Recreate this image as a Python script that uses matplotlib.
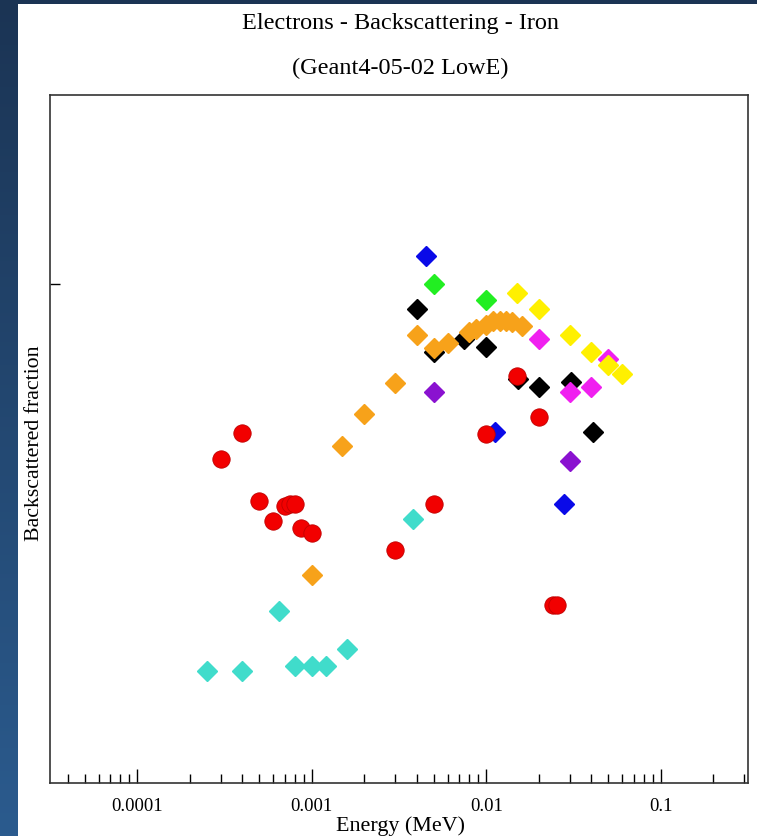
import numpy as np
import matplotlib.pyplot as plt
from matplotlib.colors import LinearSegmentedColormap
from matplotlib.ticker import FixedLocator, LogLocator, NullFormatter, FixedFormatter

plt.rcParams['font.family'] = ['Liberation Serif', 'DejaVu Serif']

# energy (MeV) and backscattered fraction, one pair of lists per data set
red_e = [0.0003, 0.0004, 0.0005, 0.0006, 0.0007, 0.00075, 0.0008, 0.00087, 0.001,
         0.003, 0.005, 0.01, 0.015, 0.02, 0.0242, 0.0255]
red_f = [0.325, 0.351, 0.283, 0.263, 0.278, 0.280, 0.280, 0.256, 0.251,
         0.234, 0.280, 0.350, 0.408, 0.367, 0.1785, 0.1785]

blue_e = [0.0045, 0.0112, 0.028]
blue_f = [0.5285, 0.352, 0.280]

green_e = [0.005, 0.01]
green_f = [0.500, 0.484]

black_e = [0.004, 0.005, 0.0075, 0.01, 0.0152, 0.02, 0.0307, 0.041]
black_f = [0.475, 0.432, 0.445, 0.437, 0.405, 0.397, 0.402, 0.352]

yellow_e = [0.015, 0.02, 0.03, 0.04, 0.05, 0.06]
yellow_f = [0.491, 0.475, 0.449, 0.432, 0.419, 0.410]

magenta_e = [0.02, 0.05, 0.03, 0.04]
magenta_f = [0.445, 0.425, 0.392, 0.397]

purple_e = [0.005, 0.03]
purple_f = [0.392, 0.323]

orange_e = [0.001, 0.0015, 0.002, 0.003, 0.004, 0.005, 0.006, 0.008, 0.00875,
            0.01, 0.011, 0.012, 0.013, 0.014, 0.016]
orange_f = [0.2086, 0.338, 0.370, 0.401, 0.449, 0.436, 0.441, 0.452, 0.455,
            0.459, 0.463, 0.463, 0.463, 0.462, 0.458]

turq_e = [0.00025, 0.0004, 0.00065, 0.0008, 0.001, 0.0012, 0.0016, 0.0038]
turq_f = [0.1123, 0.1123, 0.1725, 0.1173, 0.1173, 0.1173, 0.134, 0.265]

xtick_vals = [0.0001, 0.001, 0.01, 0.1]
xtick_labels = ['0.0001', '0.001', '0.01', '0.1']

fig = plt.figure(figsize=(7.57, 8.37), dpi=100, facecolor='white')

# dark blue slide border (left gradient strip and top strip)
band = LinearSegmentedColormap.from_list('band', ['#1b3454', '#2b5b8e'])
axl = fig.add_axes([0, 0, 18/757, 1])
axl.imshow(np.linspace(0, 1, 256).reshape(-1, 1), aspect='auto', cmap=band)
axl.axis('off')
axt = fig.add_axes([0, 1 - 5/837, 1, 5/837])
axt.set_facecolor('#1b3454')
axt.set_xticks([])
axt.set_yticks([])
for s in axt.spines.values():
    s.set_visible(False)

ax = fig.add_axes([50/757, 1 - 784/837, 698/757, 688/837])

ms_d = 10
ax.plot(turq_e, turq_f, 'D', color='#40dccb', ms=ms_d, ls='none')
ax.plot(black_e, black_f, 'D', color='black', ms=ms_d, ls='none')
ax.plot(blue_e, blue_f, 'D', color='#0a0ae8', ms=ms_d, ls='none')
ax.plot(green_e, green_f, 'D', color='#22ee22', ms=ms_d, ls='none')
ax.plot(purple_e, purple_f, 'D', color='#8a12d0', ms=ms_d, ls='none')
ax.plot(magenta_e, magenta_f, 'D', color='#f020f0', ms=ms_d, ls='none')
ax.plot(yellow_e, yellow_f, 'D', color='#fff000', ms=ms_d, ls='none')
ax.plot(orange_e, orange_f, 'D', color='#f7a21a', ms=ms_d, ls='none')
ax.plot(red_e, red_f, 'o', color='#f20000', mec='#c00000', mew=0.6, ms=12.5, ls='none')

ax.set_xscale('log')
ax.set_xlim(10**-4.5, 10**-0.5)
ax.set_ylim(0, 0.69)

ax.xaxis.set_major_locator(FixedLocator(xtick_vals))
ax.xaxis.set_major_formatter(FixedFormatter(xtick_labels))
ax.xaxis.set_minor_locator(LogLocator(base=10, subs=np.arange(2, 10)))
ax.xaxis.set_minor_formatter(NullFormatter())
ax.set_yticks([0.5])
ax.set_yticklabels([])

ax.tick_params(axis='x', which='major', direction='in', length=10, width=1,
               labelsize=13.5, pad=10, top=False)
ax.tick_params(axis='x', which='minor', direction='in', length=6.5, width=1, top=False)
ax.tick_params(axis='y', which='major', direction='in', length=7, width=1, right=False)

for s in ax.spines.values():
    s.set_color('#333333')
    s.set_linewidth(1.2)

fig.text(400/757, 1 - 24/837, 'Electrons - Backscattering - Iron', ha='center', va='center', fontsize=17.5)
fig.text(400/757, 1 - 68/837, '(Geant4-05-02 LowE)', ha='center', va='center', fontsize=17.5)
fig.text(400/757, 1 - 826/837, 'Energy (MeV)', ha='center', va='center', fontsize=15.8)
fig.text(35/757, 1 - 443/837, 'Backscattered fraction', ha='center', va='center',
         rotation=90, fontsize=15.7)

fig.savefig('out.png', dpi=100)
